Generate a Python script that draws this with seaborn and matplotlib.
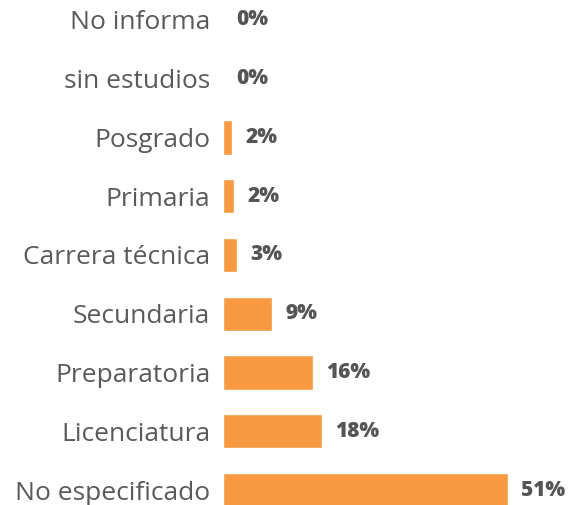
import matplotlib
matplotlib.use('Agg')
import matplotlib.pyplot as plt
import seaborn as sns
import pandas as pd

# Escolaridad (porcentaje)
categorias = ["No informa", "sin estudios", "Posgrado", "Primaria", "Carrera técnica",
              "Secundaria", "Preparatoria", "Licenciatura", "No especificado"]
porcentajes = [0.0, 0.0, 1.6, 2.1, 2.6, 8.8, 16.1, 17.7, 51.0]

df = pd.DataFrame({"Escolaridad": categorias, "Porcentaje": porcentajes})

sns.set_theme(style="white")
plt.rcParams['font.family'] = ['Open Sans', 'DejaVu Sans']

fig = plt.figure(figsize=(5.71, 5.05), dpi=100)
ax = fig.add_axes([0.39, 0.0, 0.61, 1.0])

sns.barplot(data=df, x="Porcentaje", y="Escolaridad", order=categorias,
            color="#F79A42", saturation=1, width=0.58, ax=ax)

ax.set_xlim(0, 62.3)
ax.set_ylim(8.255, -0.34)

for i, v in enumerate(porcentajes):
    ax.text(v + 2.4, i, f"{round(v)}%", va="center", ha="left",
            fontsize=15, fontweight="heavy", color="#555555")

ax.set_xlabel("")
ax.set_ylabel("")
ax.set_xticks([])
ax.tick_params(axis="y", length=0, pad=9, labelsize=19, labelcolor="#5a5a5a")
sns.despine(ax=ax, left=True, bottom=True)

fig.savefig("out.png", dpi=100)
